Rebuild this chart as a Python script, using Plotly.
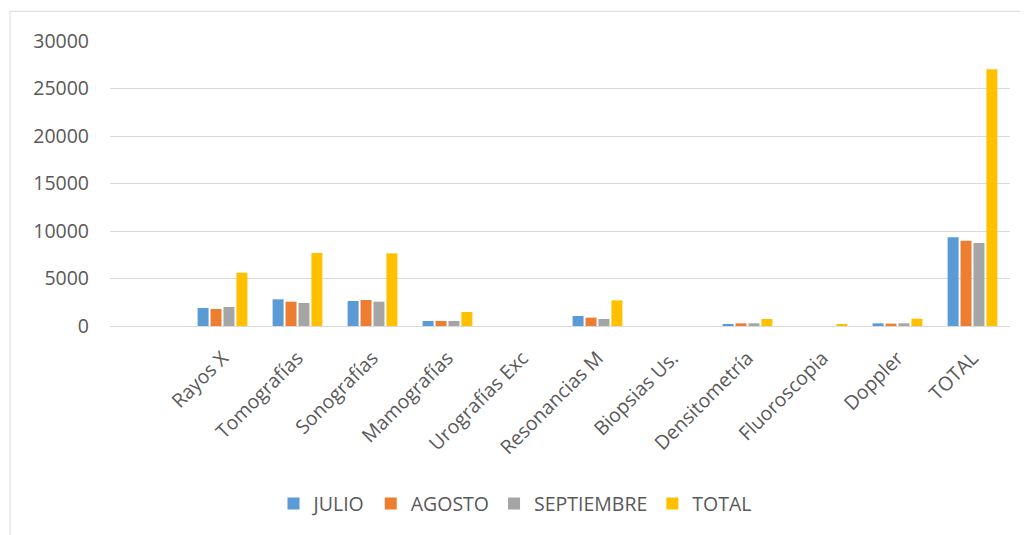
import plotly.graph_objects as go

categories = [" ", "Rayos X", "Tomografías", "Sonografías", "Mamografías", "Urografías Exc",
              "Resonancias M", "Biopsias Us.", "Densitometría", "Fluoroscopia", "Doppler", "TOTAL"]
julio = [None, 1900, 2810, 2630, 530, 0, 1050, 0, 200, 0, 280, 9340]
agosto = [None, 1790, 2560, 2740, 530, 0, 880, 0, 280, 0, 250, 8980]
septiembre = [None, 2000, 2420, 2560, 530, 0, 740, 0, 280, 0, 280, 8740]
total = [None, 5610, 7690, 7650, 1470, 0, 2700, 0, 740, 200, 770, 27030]

series = [("JULIO", julio, "#5B9BD5"), ("AGOSTO", agosto, "#ED7D31"),
          ("SEPTIEMBRE", septiembre, "#A5A5A5"), ("TOTAL", total, "#FFC000")]

# page has an 8px body margin; coordinates below are in figure pixels
W, H = 1020, 527
L, R, T, B = 102, 1002, 32.7, 318

fig = go.Figure()
for name, vals, col in series:
    fig.add_trace(go.Bar(x=categories, y=vals, name=name, marker=dict(color=col, line=dict(width=0))))

font_fam = "Open Sans, Noto Sans, sans-serif"
txt = "#595959"
bx = (2 - L) / (R - L)
by = (B - 3) / (B - T)
fig.update_layout(
    width=W, height=H,
    margin=dict(l=L, r=W - R, t=T, b=H - B, autoexpand=False),
    paper_bgcolor="white", plot_bgcolor="white",
    barmode="group", bargap=0.31, bargroupgap=0.15,
    font=dict(family=font_fam, color=txt, size=19),
    showlegend=True,
    legend=dict(orientation="h", x=0.45, xanchor="center", y=-0.624, yanchor="middle",
                font=dict(size=19.5, color=txt), itemwidth=30, traceorder="normal"),
    xaxis=dict(type="category", tickangle=-45, showgrid=False, showline=True,
               linecolor="#D9D9D9", linewidth=1, ticks="", tickfont=dict(size=19.5, color=txt),
               categoryorder="array", categoryarray=categories, ticklabelstandoff=12),
    yaxis=dict(range=[0, 30000], dtick=5000, tickformat="d", showgrid=True, gridcolor="#D9D9D9",
               gridwidth=1, zeroline=False, showline=False, ticks="",
               tickfont=dict(size=19.5, color=txt), ticklabelstandoff=20),
    shapes=[
        dict(type="line", xref="paper", yref="paper", x0=bx, x1=1.1, y0=by, y1=by,
             line=dict(color="#D9D9D9", width=1)),
        dict(type="line", xref="paper", yref="paper", x0=bx, x1=bx, y0=by, y1=-1,
             line=dict(color="#D9D9D9", width=1)),
    ],
)
fig.write_html("out.html")
